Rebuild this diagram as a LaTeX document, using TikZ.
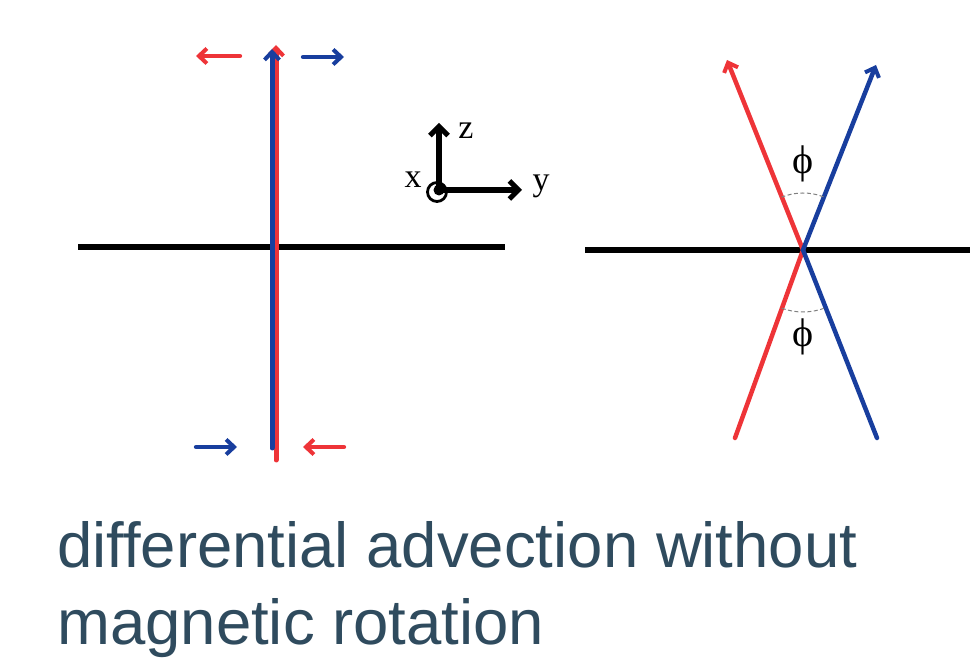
\documentclass[tikz,border=0pt]{standalone}
\usepackage{fontspec}
\setmainfont[Ligatures=NoCommon]{Liberation Sans}
\newfontfamily\serifletters{Liberation Serif}
\usetikzlibrary{arrows.meta}
\definecolor{myred}{RGB}{238,52,56}
\definecolor{myblue}{RGB}{24,62,158}
\definecolor{txt}{RGB}{47,75,94}
\tikzset{
  bar/.style={line width=6pt, black},
  vred/.style={line width=5pt, myred},
  vblue/.style={line width=5pt, myblue},
  barb/.style={-{Straight Barb[length=8pt,width=15pt,line width=4pt]}, line cap=round},
  small/.style={line width=4.3pt, barb},
  axis/.style={line width=5.5pt, -{Straight Barb[length=9pt,width=18pt,line width=5pt]}},
  letter/.style={font=\serifletters\fontsize{34}{34}\selectfont, inner sep=0pt},
  philab/.style={font=\serifletters\fontsize{40}{40}\selectfont, inner sep=0pt},
  arcst/.style={gray, line width=1pt, dash pattern=on 4pt off 2.5pt},
  caption/.style={font=\fontsize{63.5}{72}\selectfont, text=txt, inner sep=0pt, anchor=base west}
}
\begin{document}
\begin{tikzpicture}[x=1pt,y=1pt]
\useasboundingbox (0,0) rectangle (970,661);
% left diagram
\coordinate (hl1) at (78,414); \coordinate (hl2) at (505,414);
\draw[bar] (hl1) -- (hl2);
\coordinate (rb) at (276,201); \coordinate (rt) at (276,616);
\coordinate (bb) at (272,213); \coordinate (bt) at (272,612);
\draw[vred, barb] (rb) -- (rt);
\draw[vblue, barb] (bb) -- (bt);
\coordinate (a1s) at (240,605); \coordinate (a1e) at (196,605);
\coordinate (a2s) at (303,604); \coordinate (a2e) at (344,604);
\coordinate (a3s) at (196,214); \coordinate (a3e) at (237,214);
\coordinate (a4s) at (344,214); \coordinate (a4e) at (303,214);
\draw[small, myred] (a1s) -- (a1e);
\draw[small, myblue] (a2s) -- (a2e);
\draw[small, myblue] (a3s) -- (a3e);
\draw[small, myred] (a4s) -- (a4e);
% axes
\coordinate (O) at (439,471);
\coordinate (Oc) at (437,469);
\coordinate (zt) at (439,538);
\coordinate (yt) at (522,471);
\draw[axis] (O) -- (zt);
\draw[axis] (O) -- (yt);
\draw[line width=2.8pt] (Oc) circle (9.5);
\fill (O) circle (5.5);
\node[letter] (zl) at (466,530) {z};
\node[letter] (xl) at (413,481) {x};
\node[letter] (yl) at (541,475) {y};
% right diagram
\coordinate (hr1) at (585,411); \coordinate (hr2) at (970,411);
\draw[bar] (hr1) -- (hr2);
\coordinate (C) at (803,411);
\coordinate (rlo) at (735,223); \coordinate (rup) at (727,601);
\coordinate (blo) at (877,223); \coordinate (bup) at (876,596);
\draw[line width=4.5pt, myred, barb] (rlo) -- (C) -- (rup);
\draw[line width=4.5pt, myblue, barb] (blo) -- (C) -- (bup);
\draw[arcst] ([shift={(69:57)}]C) arc[start angle=69, end angle=112, radius=57];
\draw[arcst] ([shift={(250:62)}]C) arc[start angle=250, end angle=291, radius=62];
\node[philab] (p1) at (803,497) {ϕ};
\node[philab] (p2) at (803,324) {ϕ};
% caption
\node[caption] (c1) at (57,93) {differential advection without};
\node[caption] (c2) at (57,16) {magnetic rotation};
\end{tikzpicture}
\end{document}
